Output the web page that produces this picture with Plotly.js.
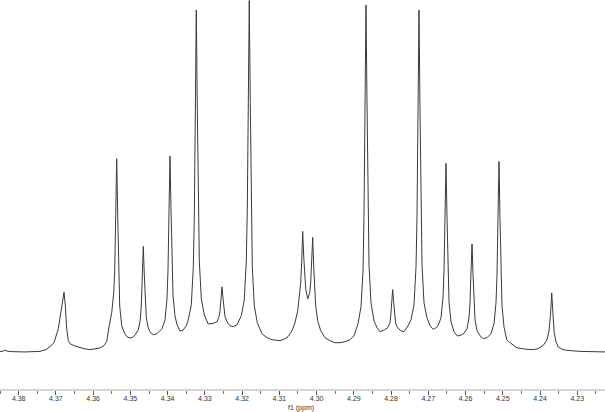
<!DOCTYPE html>
<html>
<head>
<meta charset="utf-8">
<script src="https://cdn.plot.ly/plotly-3.0.1.min.js"></script>
<style>html,body{margin:0;padding:0;background:#fff;}#chart{width:605px;height:412px;}</style>
</head>
<body>
<div id="chart"></div>
<script>
// chemical shift (ppm) and intensity (arb. units)
const shiftPpm = [
4.38502,4.38421,4.38368,4.38314,4.38180,4.37831,4.37428,4.37267,4.37159,4.37052,
4.36936,4.36864,4.36824,4.36783,4.36748,4.36711,4.36668,4.36622,4.36515,4.36407,
4.36246,4.36085,4.35951,4.35817,4.35709,4.35637,4.35575,4.35502,4.35449,4.35422,
4.35395,4.35368,4.35341,4.35315,4.35288,4.35234,4.35153,4.35092,4.35011,
4.34931,4.34869,4.34788,4.34735,4.34708,4.34681,4.34654,4.34627,4.34600,4.34573,4.34520,4.34461,4.34385,
4.34286,4.34152,4.34071,4.34018,4.33991,4.33964,4.33937,4.33910,4.33883,4.33856,4.33803,4.33749,4.33668,
4.33588,4.33499,4.33446,4.33365,4.33311,4.33284,4.33258,4.33231,4.33204,4.33177,4.33150,4.33096,4.33016,4.32917,
4.32809,4.32675,4.32621,4.32594,4.32567,4.32541,4.32514,4.32487,4.32460,4.32406,4.32326,4.32245,
4.32138,4.32022,4.31942,4.31888,4.31861,4.31834,4.31808,4.31781,4.31754,4.31727,4.31673,4.31593,4.31467,4.31332,4.31198,4.30983,4.30849,4.30768,
4.30661,4.30580,4.30508,4.30454,4.30427,4.30400,4.30374,4.30347,4.30320,4.30293,4.30239,4.30186,4.30159,4.30132,4.30105,4.30078,4.30051,4.30025,4.29971,4.29890,4.29775,4.29641,4.29506,4.29372,4.29238,
4.29103,4.28996,4.28889,4.28808,4.28754,4.28728,4.28701,4.28674,4.28647,4.28620,4.28593,4.28540,4.28459,4.28378,4.28298,
4.28172,4.28091,4.28037,4.28011,4.27984,4.27957,4.27930,4.27903,4.27876,4.27823,4.27742,4.27653,
4.27546,4.27465,4.27385,4.27331,4.27304,4.27277,4.27251,4.27224,4.27197,4.27170,4.27116,4.27036,4.26955,4.26867,
4.26794,4.26740,4.26660,4.26606,4.26579,4.26552,4.26526,4.26499,4.26472,4.26445,4.26391,4.26311,4.26222,
4.26123,4.26042,4.25962,4.25908,4.25881,4.25854,4.25827,4.25801,4.25774,4.25747,4.25693,4.25613,4.25524,
4.25425,4.25317,4.25237,4.25183,4.25156,4.25129,4.25102,4.25076,4.25049,4.25022,4.24968,4.24896,4.24807,4.24627,4.24404,4.24181,
4.24055,4.23913,4.23813,4.23760,4.23719,4.23687,4.23655,4.23620,4.23572,4.23510,4.23411,4.23284,4.22927,4.22525,4.22256
];
const intensity = [
-1,-0.5,0.6,-0.5,-1,-1.3,-0.7,1,4,8,
22,39,48,58.7,45,22,10,7,5,3.5,
2,1,1.5,2.7,5,9,24,38,58,80,
135,192.7,135,75,45,25,17,14,12.7,
13.5,16,21,31,45,75,104.7,76,47,33,23,18,16,
17,22,31,52,80,139,195.3,142,84,55,35,26,19.7,
20.5,25,31,46,84,135,241,342,243,140,90,52,36,27,
27,29,34,40,53,64,53,40,34,29,25,24,
26,35,51,90,142,250,351.5,248,138,84,45,28,17,13,11,10,12,14,
20,28,40,55,68,90,119.7,95,75,62,52,58,68,88,113.7,84,60,45,30,20,13,10,8,8,9,
11,15,27,44,80,135,245,347,250,140,86,48,30,23,19,
21,23,27,34,48,61.3,48,34,27,23,20,19,
25,31,46,84,135,241,342,243,137,86,48,33,25,21.3,
23,25,33,53,80,138,188,135,76,49,29,19,14.7,
15.5,17.5,22,33,48,79,107,78,46,31,20,15,12,
13,17,27,48,76,135,190,133,73,45,24,11,8,3,1.5,1,
2,5.3,11,20,36,58,38,18,9,3.7,1.5,0.3,-0.7,-1.1,-1.3
];
const axisTitle = "f1 (ppm)";

const trace = {
  x: shiftPpm, y: intensity, type: 'scatter', mode: 'lines',
  line: {color: '#3a3a3a', width: 1}, hoverinfo: 'skip'
};
const layout = {
  width: 605, height: 412,
  margin: {l: 0, r: 0, t: 0, b: 23},
  paper_bgcolor: '#ffffff', plot_bgcolor: '#ffffff',
  showlegend: false,
  xaxis: {
    range: [4.38502, 4.22256],
    showgrid: false, zeroline: false,
    showline: true, linecolor: '#d4d4d4', linewidth: 2,
    ticks: 'outside', ticklen: 4, tickwidth: 1, tickcolor: '#555',
    tick0: 4.38, dtick: 0.01, tickformat: '.2f',
    ticklabelstandoff: -2,
    minor: {ticks: 'outside', ticklen: 3, tickcolor: '#777', dtick: 0.005, tick0: 4.38},
    tickfont: {family: 'Liberation Sans, Arial, sans-serif', size: 7, color: '#333'}
  },
  yaxis: {range: [-38.5, 352], visible: false, showgrid: false, zeroline: false},
  annotations: [{
    text: axisTitle, xref: 'paper', yref: 'paper', x: 0.498, y: -0.049,
    xanchor: 'center', yanchor: 'middle', showarrow: false,
    font: {family: 'Liberation Sans, Arial, sans-serif', size: 7, color: '#333'}
  }]
};
Plotly.newPlot('chart', [trace], layout, {displayModeBar: false, staticPlot: true});
</script>
</body>
</html>
